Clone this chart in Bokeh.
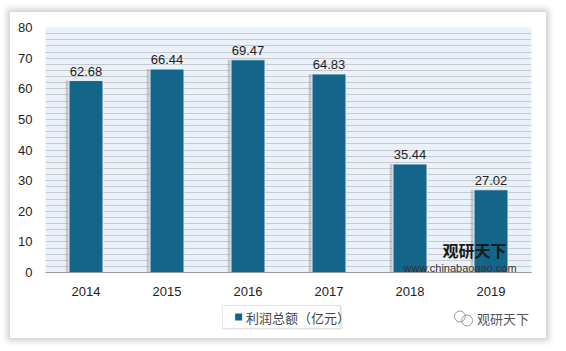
from bokeh.plotting import figure
from bokeh.layouts import column
from bokeh.models import ColumnDataSource, Label, SingleIntervalTicker
from bokeh.core.properties import value
from bokeh.transform import dodge
from bokeh.embed import file_html
from bokeh.resources import INLINE

years = ["2014", "2015", "2016", "2017", "2018", "2019"]
profit = [62.68, 66.44, 69.47, 64.83, 35.44, 27.02]
labels = ["62.68", "66.44", "69.47", "64.83", "35.44", "27.02"]
series_name = "利润总额（亿元）"
bar_color = "#136589"

src = ColumnDataSource(dict(x=years, top=profit, lab=labels))

p = figure(x_range=years, y_range=(0, 80), width=536, height=288,
           output_backend="svg", toolbar_location=None,
           min_border_left=35, min_border_right=15, min_border_top=15, min_border_bottom=28)
p.background_fill_color = "#eaf1f8"
p.border_fill_color = "white"
p.outline_line_color = None

p.yaxis.ticker = SingleIntervalTicker(interval=10)
p.ygrid.ticker = SingleIntervalTicker(interval=2)
p.ygrid.grid_line_color = "#c6cad1"
p.ygrid.grid_line_width = 1
p.xgrid.grid_line_color = None

for ax in (p.xaxis, p.yaxis):
    ax.major_label_text_font = "Liberation Sans"
    ax.major_label_text_font_size = "13px"
    ax.major_label_text_color = "#222222"
    ax.major_tick_line_color = None
    ax.minor_tick_line_color = None
p.yaxis.axis_line_color = None
p.xaxis.axis_line_color = "#9a9a9a"
p.xaxis.major_label_standoff = 8
p.yaxis.major_label_standoff = 7

# bar shadow
p.vbar(x=dodge("x", -0.035, range=p.x_range), top="top", width=0.43, source=src,
       fill_color="#7a7a7a", fill_alpha=0.35, line_color=None)
p.vbar(x="x", top="top", width=0.42, source=src,
       fill_color=bar_color, line_color="#e8eef3", line_width=1)

p.text(x="x", y="top", text="lab", source=src, text_align="center", text_baseline="bottom",
       y_offset=-5, text_font_size="13px", text_color="#222222",
       text_font=value("Liberation Sans"))

# watermark inside plot
p.add_layout(Label(x=397, y=11, x_units="screen", y_units="screen", text="观研天下",
                   text_font="Noto Sans CJK SC", text_font_size="16px", text_font_style="bold",
                   text_color="#1a1a1a"))
p.add_layout(Label(x=358, y=-1, x_units="screen", y_units="screen", text="www.chinabaogao.com",
                   text_font="Liberation Sans", text_font_size="11px", text_color="#333333"))

# bottom strip: legend + wechat watermark
q = figure(x_range=(0, 536), y_range=(0, 38), width=536, height=38,
           output_backend="svg", toolbar_location=None,
           min_border_left=0, min_border_right=0, min_border_top=0, min_border_bottom=0)
q.axis.visible = False
q.grid.visible = False
q.outline_line_color = None
q.background_fill_color = "white"
q.border_fill_color = "white"

q.quad(left=[197], right=[327], bottom=[9], top=[32], fill_color="#bbbbbb", fill_alpha=0.35, line_color=None)
q.quad(left=[195], right=[325], bottom=[10], top=[33], fill_color="white", line_color="#e2e2e2")
q.scatter(x=[213], y=[21.5], marker="square", size=7, fill_color=bar_color, line_color=None)
q.text(x=[221], y=[21.5], text=[series_name], text_baseline="middle",
       text_font=value("Noto Sans CJK SC"), text_font_size="13px", text_color="#444444")

q.circle(x=[457, 465], y=[22, 18], radius=6, fill_color=None, line_color="#999999", line_width=1)
q.text(x=[476], y=[20], text=["观研天下"], text_baseline="middle",
       text_font=value("Noto Sans CJK SC"), text_font_size="13px", text_color="#555555")

layout = column(p, q, spacing=0)
layout.styles = {"box-shadow": "0px 0px 6px 3px #cfcfcf", "margin-left": "10px",
                 "margin-top": "12px", "background": "white"}

open("out.html", "w").write(file_html(layout, INLINE))
